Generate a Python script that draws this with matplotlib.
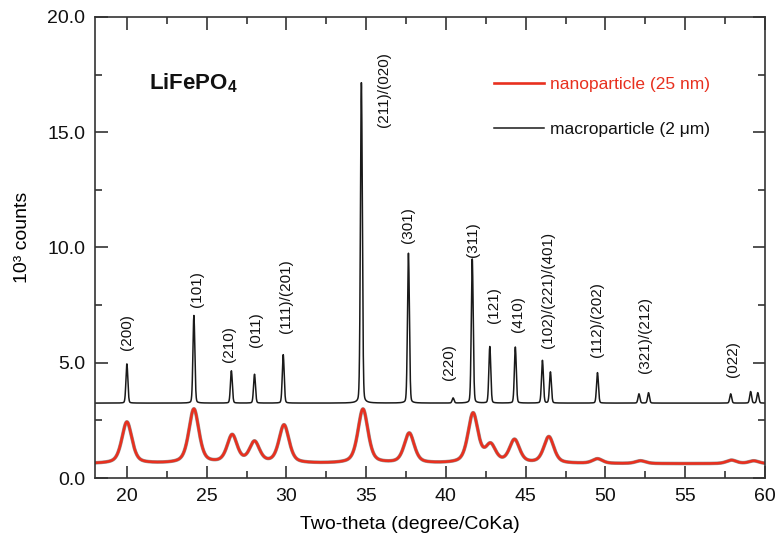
import numpy as np
import matplotlib
matplotlib.use("Agg")
import matplotlib.pyplot as plt
from matplotlib.ticker import MultipleLocator, FormatStrFormatter

plt.rcParams['font.family'] = ['Liberation Sans', 'DejaVu Sans']
plt.rcParams['mathtext.fontset'] = 'custom'
plt.rcParams['mathtext.rm'] = 'Liberation Sans'
plt.rcParams['mathtext.bf'] = 'Liberation Sans:bold'

# peak table of the macroparticle pattern: position (deg), height above background (10^3 counts)
macro_pos = [20.0, 24.2, 26.55, 28.0, 29.8, 34.7, 37.65, 40.45, 41.65, 42.75,
             44.35, 46.05, 46.55, 49.5, 52.1, 52.7, 57.85, 59.1, 59.55]
macro_height = [1.7, 3.8, 1.4, 1.25, 2.1, 13.9, 6.5, 0.22, 6.25, 2.45,
                2.43, 1.85, 1.35, 1.32, 0.4, 0.45, 0.4, 0.5, 0.45]
macro_background = 3.25

# peak table of the nanoparticle pattern (broadened)
nano_pos = [20.0, 24.2, 26.6, 28.0, 29.85, 34.8, 37.7, 41.7, 42.8, 44.3,
            46.45, 49.5, 52.2, 57.9, 59.3]
nano_height = [1.8, 2.35, 1.2, 0.9, 1.65, 2.35, 1.3, 2.15, 0.75, 1.0,
               1.15, 0.2, 0.12, 0.15, 0.12]
nano_background = 0.62

hkl_labels = ["(200)", "(101)", "(210)", "(011)", "(111)/(201)", "(211)/(020)",
              "(301)", "(220)", "(311)", "(121)", "(410)", "(102)/(221)/(401)",
              "(112)/(202)", "(321)/(212)", "(022)"]
hkl_x = [20.0, 24.4, 26.4, 28.1, 30.0, 36.1, 37.65, 40.2, 41.7, 43.0,
         44.5, 46.4, 49.5, 52.5, 57.97]
hkl_y = [5.55, 7.43, 5.05, 5.7, 6.28, 15.24, 10.2, 4.25, 9.6, 6.72,
         6.35, 5.64, 5.26, 4.55, 4.4]


def pattern(x, pos, height, fwhm, eta, background):
    y = np.full_like(x, background)
    for p, h in zip(pos, height):
        d = (x - p) / (fwhm / 2)
        gauss = np.exp(-np.log(2) * d ** 2)
        lor = 1 / (1 + d ** 2)
        y += h * ((1 - eta) * gauss + eta * lor)
    return y


two_theta = np.linspace(18, 60, 4201)
macro = pattern(two_theta, macro_pos, macro_height, 0.14, 0.15, macro_background)
nano = pattern(two_theta, nano_pos, nano_height, 0.75, 0.5, nano_background)

fig = plt.figure(figsize=(7.76, 5.43), dpi=100)
ax = fig.add_axes([0.1224, 0.1197, 0.8634, 0.849])

ax.plot(two_theta, nano, color='#9a9a9a', lw=2.6)
ax.plot(two_theta, nano, color='#e8301f', lw=1.9, label='nanoparticle (25 nm)')
ax.plot(two_theta, macro, color='#1a1a1a', lw=1.1, label='macroparticle (2 μm)')

for lab, lx, ly in zip(hkl_labels, hkl_x, hkl_y):
    ax.text(lx, ly, lab, rotation=90, ha='center', va='bottom',
            fontsize=11, color='#111111')

ax.text(21.4, 16.85, r'$\mathbf{LiFePO_4}$', fontsize=16, color='#111111')

leg = ax.legend(loc='upper left', bbox_to_anchor=(0.582, 0.888), frameon=False,
                fontsize=12.5, handlelength=2.9, handletextpad=0.35,
                labelspacing=1.7, borderpad=0)
leg.get_texts()[0].set_color('#e8301f')
leg.get_texts()[1].set_color('#111111')

ax.set_xlim(18, 60)
ax.set_ylim(0, 20)
ax.xaxis.set_major_locator(MultipleLocator(5))
ax.xaxis.set_minor_locator(MultipleLocator(2.5))
ax.yaxis.set_major_locator(MultipleLocator(5))
ax.yaxis.set_minor_locator(MultipleLocator(2.5))
ax.yaxis.set_major_formatter(FormatStrFormatter('%.1f'))
ax.tick_params(which='both', direction='in', top=True, right=True,
               labelsize=14, width=1.2, color='#333333', labelcolor='#111111')
ax.tick_params(which='major', length=9, pad=7)
ax.tick_params(which='minor', length=5)
for s in ax.spines.values():
    s.set_linewidth(1.2)
    s.set_color('#333333')

ax.set_xlabel('Two-theta (degree/CoKa)', fontsize=14)
ax.set_ylabel('10³ counts', fontsize=14)
ax.xaxis.set_label_coords(0.47, -0.083)
ax.yaxis.set_label_coords(-0.095, 0.523)

fig.savefig('out.png', dpi=100)
